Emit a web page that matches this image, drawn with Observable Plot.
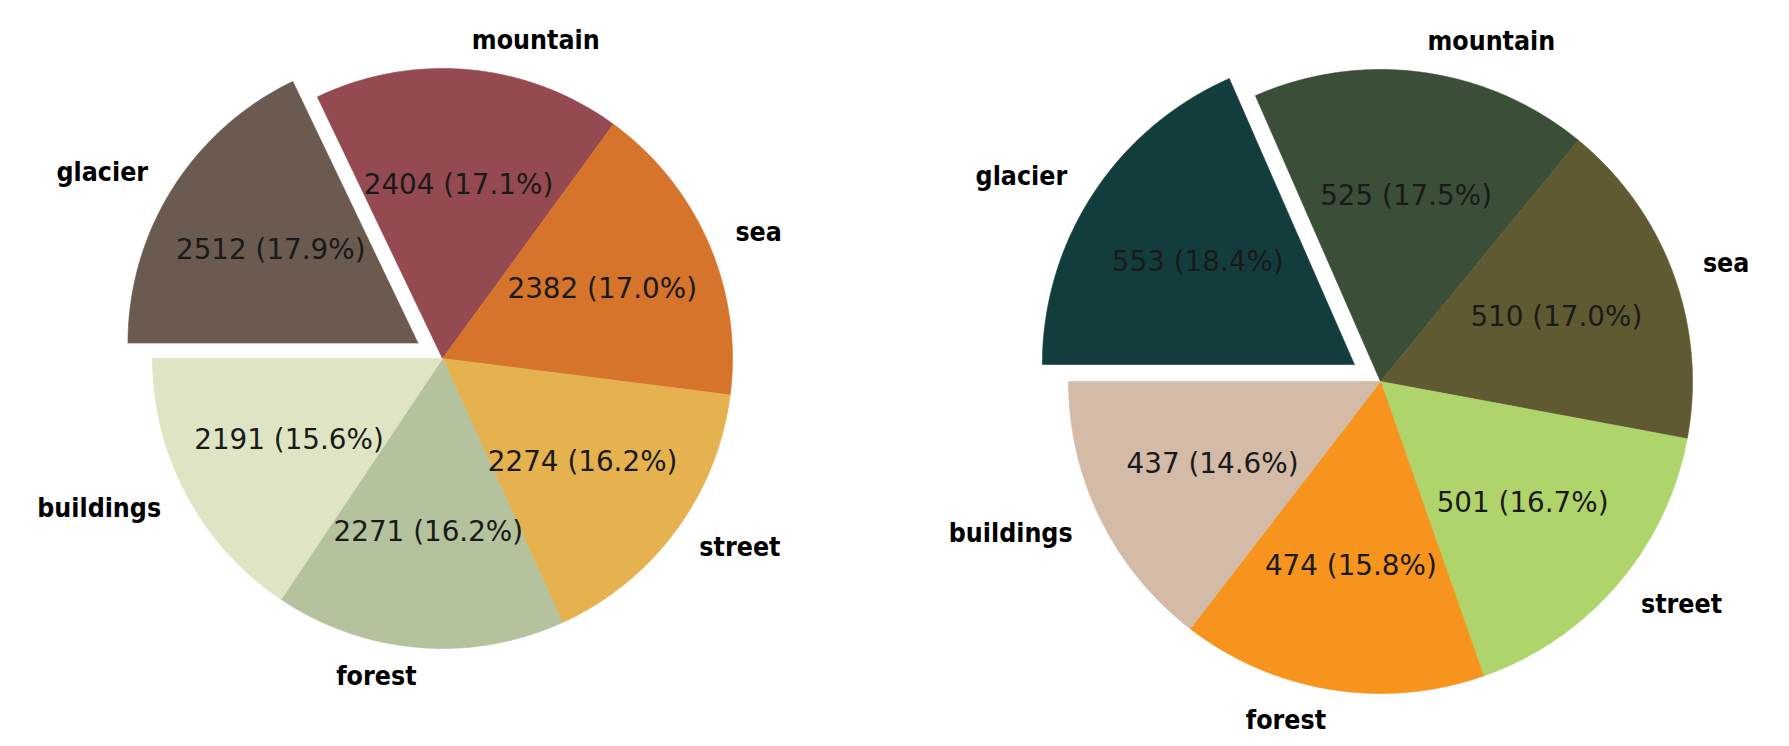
<!DOCTYPE html>
<html>
<head>
<meta charset="utf-8">
<script src="https://cdn.jsdelivr.net/npm/d3@7"></script>
<script src="https://cdn.jsdelivr.net/npm/@observablehq/plot@0.6"></script>
<style>
  html, body { margin: 0; padding: 0; background: #ffffff; }
  #row { display: flex; flex-direction: row; width: 1789px; height: 746px; }
  #row svg { display: block; }
</style>
</head>
<body>
<div id="row"></div>
<script>
// ---- Data ----
const categories = ["glacier", "mountain", "sea", "street", "forest", "buildings"];
const leftValues = [2512, 2404, 2382, 2274, 2271, 2191];
const rightValues = [553, 525, 510, 501, 474, 437];
const leftColors = ["#6a5a50", "#944a50", "#d5742a", "#e5b24f", "#b4c29d", "#dfe4c4"];
const rightColors = ["#133d3c", "#3b4e37", "#5f5a31", "#b0d46c", "#f6941e", "#d3bba8"];
const explode = [0.1, 0, 0, 0, 0, 0];

// Build wedge polygons (unit-radius), clockwise from 180°, like matplotlib pie(startangle=180, counterclock=False)
function pieData(cats, values, expl) {
  const total = d3.sum(values);
  let cum = 0;
  const wedges = [], labels = [], pcts = [];
  cats.forEach((c, i) => {
    const v = values[i];
    const t0 = Math.PI - 2 * Math.PI * cum / total;
    const t1 = Math.PI - 2 * Math.PI * (cum + v) / total;
    cum += v;
    const tm = (t0 + t1) / 2;
    const ox = expl[i] * Math.cos(tm), oy = expl[i] * Math.sin(tm);
    const N = 120;
    wedges.push({key: c, x: ox, y: oy});
    for (let k = 0; k <= N; k++) {
      const a = t0 + (t1 - t0) * k / N;
      wedges.push({key: c, x: ox + Math.cos(a), y: oy + Math.sin(a)});
    }
    wedges.push({key: c, x: ox, y: oy});
    labels.push({key: c, x: ox + 1.1 * Math.cos(tm), y: oy + 1.1 * Math.sin(tm), left: Math.cos(tm) > 0});
    pcts.push({key: c, x: ox + 0.6 * Math.cos(tm), y: oy + 0.6 * Math.sin(tm),
      text: `${v} (${(100 * v / total).toFixed(1)}%)`});
  });
  return {wedges, labels, pcts};
}

const labelFont = "'DejaVu Sans Condensed', 'Liberation Sans Narrow', 'DejaVu Sans', sans-serif";
const pctFont = "'DejaVu Sans', sans-serif";

function makePie(values, colors, width, height, cx, cy, R) {
  const {wedges, labels, pcts} = pieData(categories, values, explode);
  return Plot.plot({
    width, height,
    margin: 0,
    x: {domain: [-cx / R, (width - cx) / R], axis: null},
    y: {domain: [-(height - cy) / R, cy / R], axis: null},
    color: {domain: categories, range: colors},
    style: {background: "#ffffff", overflow: "visible"},
    marks: [
      Plot.line(wedges, {x: "x", y: "y", z: "key", fill: "key", stroke: "key", strokeWidth: 0.6, curve: "linear"}),
      Plot.text(pcts, {x: "x", y: "y", text: "text", fontSize: 27.8, fontFamily: pctFont, fill: "#1a1a1a", textAnchor: "middle"}),
      Plot.text(labels.filter(d => d.left), {x: "x", y: "y", text: "key", textAnchor: "start",
        fontSize: 26.5, fontWeight: "bold", fontFamily: labelFont, fill: "#000000"}),
      Plot.text(labels.filter(d => !d.left), {x: "x", y: "y", text: "key", textAnchor: "end",
        fontSize: 26.5, fontWeight: "bold", fontFamily: labelFont, fill: "#000000"})
    ]
  });
}

const row = document.getElementById("row");
row.append(makePie(leftValues, leftColors, 895, 746, 442, 358, 290));
row.append(makePie(rightValues, rightColors, 894, 746, 485, 381, 312));
</script>
</body>
</html>
